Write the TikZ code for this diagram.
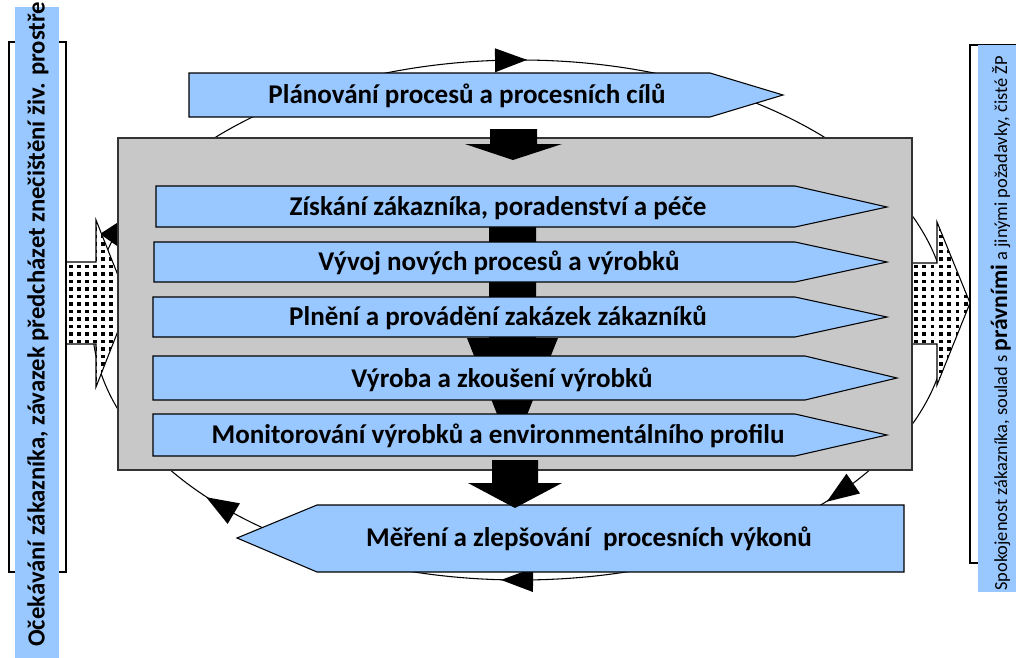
\documentclass[tikz,border=0pt]{standalone}
\usepackage{fontspec}
\setmainfont{Carlito}
\definecolor{procblue}{RGB}{153,199,255}
\definecolor{panelgray}{RGB}{200,200,200}
\tikzset{
  procbox/.style={fill=procblue, draw=black, line width=0.8pt},
  panel/.style={fill=panelgray, draw=black!80, line width=1.2pt},
  flowarrow/.style={fill=black},
  cycle/.style={draw=black, line width=0.8pt},
  dotarrow/.style={draw=black, line width=0.8pt},
  proclabel/.style={font=\fontsize{20.3}{24}\selectfont\bfseries, inner sep=0pt},
}
\begin{document}
\begin{tikzpicture}[x=0.75pt,y=-0.75pt]
\useasboundingbox (0,0) rectangle (1016,657);
\clip (0,0) rectangle (1016,657);

% side frames and their blue bars
\draw[line width=0.8pt] (9,42) rectangle (66,572);
\fill[procblue] (15,7) rectangle (59,660);
\node[rotate=90, anchor=west, inner sep=0pt, font=\fontsize{18.5}{22}\selectfont\bfseries]
  (expect) at (38,647) {Očekávání zákazníka, závazek předcházet znečištění živ. prostře};

\draw[line width=0.8pt] (970,45) rectangle (1030,563);
\fill[procblue] (978,45) rectangle (1020,592);
\node[rotate=90, anchor=base west, inner sep=0pt] (satisf) at (1007,591)
  {\fontsize{13.8}{16}\selectfont Spokojenost zákazníka, soulad s
   {\fontsize{17.7}{20}\selectfont\bfseries právními} a jinými požadavky, čisté ŽP};

% improvement cycle
\draw[cycle] (520,320) ellipse [x radius=428, y radius=260];
\foreach \t in {-91.2, 41.6, 90.4, 134.5} {
  \pgfmathsetmacro\hpx{520+428*cos(\t)}
  \pgfmathsetmacro\hpy{320+260*sin(\t)}
  \pgfmathsetmacro\htx{-4.28*sin(\t)}
  \pgfmathsetmacro\hty{2.60*cos(\t)}
  \pgfmathsetmacro\hlen{veclen(\htx,\hty)}
  \pgfmathsetmacro\hux{\htx/\hlen}
  \pgfmathsetmacro\huy{\hty/\hlen}
  \fill ({\hpx+16*\hux},{\hpy+16*\huy})
     -- ({\hpx-16*\hux-12*\huy},{\hpy-16*\huy+12*\hux})
     -- ({\hpx-16*\hux+12*\huy},{\hpy-16*\huy-12*\hux}) -- cycle;
}
\fill (100,234) -- (120,221) -- (120,248) -- cycle;

% dotted input / output arrows
\begin{scope}
  \path[clip] (67,262) -- (96,262) -- (96,220) -- (129,303) -- (96,387) -- (96,344) -- (67,344) -- cycle;
  \fill[white] (60,210) rectangle (140,400);
  \foreach \i in {0,...,9} \foreach \j in {0,...,22}
    \fill ({69+8*\i},{212+7.5*\j}) rectangle +(3.8,3.8);
\end{scope}
\draw[dotarrow] (67,262) -- (96,262) -- (96,220) -- (129,303) -- (96,387) -- (96,344) -- (67,344);

\begin{scope}
  \path[clip] (912,263) -- (937,263) -- (937,222) -- (970,303) -- (937,385) -- (937,344) -- (912,344) -- cycle;
  \fill[white] (905,210) rectangle (980,400);
  \foreach \i in {0,...,9} \foreach \j in {0,...,22}
    \fill ({914+8.3*\i},{212+7.5*\j}) rectangle +(3.8,3.8);
\end{scope}
\draw[dotarrow] (912,263) -- (937,263) -- (937,222) -- (970,303) -- (937,385) -- (937,344) -- (912,344);

% planning stage
\draw[procbox] (189,73) -- (710,73) -- (783,95) -- (710,117) -- (189,117) -- cycle;
\node[proclabel] (plan) at (467,96) {Plánování procesů a procesních cílů};

% main process panel
\draw[panel] (118,138) rectangle (912,470);
\fill[flowarrow] (490,129) -- (537,129) -- (537,144) -- (562,144) -- (513,160) -- (465,144) -- (490,144) -- cycle;
\fill[flowarrow] (489,222) -- (536,222) -- (536,338) -- (558,338) -- (512,452) -- (467,338) -- (489,338) -- cycle;

\draw[procbox] (156,186) -- (795,186) -- (887,207) -- (795,227) -- (156,227) -- cycle;
\node[proclabel] (acquire) at (498,208) {Získání zákazníka, poradenství a péče};
\draw[procbox] (154,242) -- (795,242) -- (887,262) -- (795,282) -- (154,282) -- cycle;
\node[proclabel] (develop) at (499,263) {Vývoj nových procesů a výrobků};
\draw[procbox] (153,297) -- (795,297) -- (887,317) -- (795,337) -- (153,337) -- cycle;
\node[proclabel] (fulfil) at (498,318) {Plnění a provádění zakázek zákazníků};
\draw[procbox] (153,356) -- (805,356) -- (897,378) -- (805,400) -- (153,400) -- cycle;
\node[proclabel] (produce) at (502,380) {Výroba a zkoušení výrobků};
\draw[procbox] (153,414) -- (795,414) -- (887,435) -- (795,456) -- (153,456) -- cycle;
\node[proclabel] (monitor) at (498,436) {Monitorování výrobků a environmentálního profilu};

% measurement stage
\draw[procbox] (904,505) -- (317,505) -- (237,538) -- (317,572) -- (904,572) -- cycle;
\node[proclabel] (measure) at (589,539) {Měření a zlepšování \ procesních výkonů};
\fill[flowarrow] (492,460) -- (538,460) -- (538,483) -- (562,483) -- (515,508) -- (468,483) -- (492,483) -- cycle;
\end{tikzpicture}
\end{document}
